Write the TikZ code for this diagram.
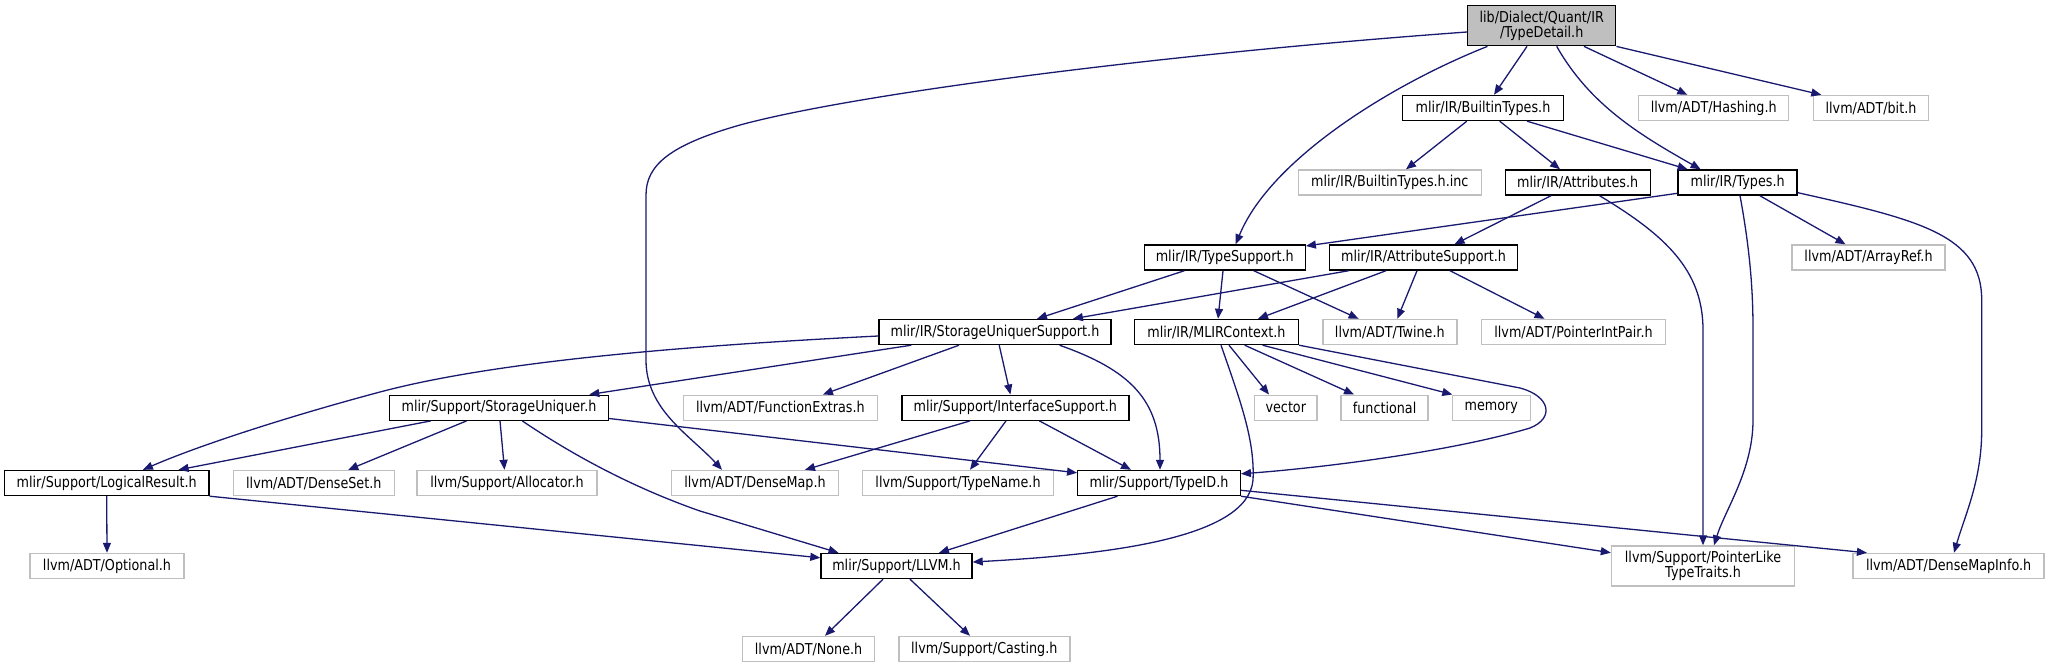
\documentclass[tikz,border=0pt]{standalone}
\usepackage{fontspec}
\setmainfont[FakeStretch=0.85]{DejaVu Sans}
\usetikzlibrary{arrows.meta,calc}
\definecolor{edgeblue}{HTML}{191970}
\definecolor{extgrey}{HTML}{BFBFBF}
\begin{document}
\begin{tikzpicture}[x=1pt,y=-1pt,
  box/.style={draw=black,line width=1.4pt,rectangle,inner sep=0pt,minimum height=25pt,font=\fontsize{15}{15.5}\selectfont,align=center},
  ext/.style={box,draw=extgrey},
  e/.style={draw=edgeblue,line width=1.3pt,-{Triangle[length=10pt,width=8pt]}}]
\useasboundingbox (0,0) rectangle (2049,664);
% nodes
\node[box,minimum width=148pt,minimum height=40pt,fill=extgrey] (td) at (1541.7,25.7) {lib/Dialect/Quant/IR\\/TypeDetail.h};
\node[box,minimum width=161pt] (bt) at (1483,108) {mlir/IR/BuiltinTypes.h};
\node[ext,minimum width=150pt] (hash) at (1713.7,108) {llvm/ADT/Hashing.h};
\node[ext,minimum width=115pt] (bit) at (1871,108) {llvm/ADT/bit.h};
\node[ext,minimum width=183pt] (inc) at (1389.8,182.5) {mlir/IR/BuiltinTypes.h.inc};
\node[box,minimum width=145pt] (attr) at (1577.7,182.5) {mlir/IR/Attributes.h};
\node[box,minimum width=119pt] (types) at (1737.6,182.5) {mlir/IR/Types.h};
\node[box,minimum width=161pt] (ts) at (1224.7,257.5) {mlir/IR/TypeSupport.h};
\node[box,minimum width=188pt] (as) at (1423.5,257.5) {mlir/IR/AttributeSupport.h};
\node[ext,minimum width=153pt] (arr) at (1868.5,257.5) {llvm/ADT/ArrayRef.h};
\node[box,minimum width=232pt] (sus) at (995,332) {mlir/IR/StorageUniquerSupport.h};
\node[box,minimum width=164pt] (ctx) at (1216.4,332) {mlir/IR/MLIRContext.h};
\node[ext,minimum width=134pt] (twine) at (1389.8,332) {llvm/ADT/Twine.h};
\node[ext,minimum width=184pt] (pip) at (1573.5,332) {llvm/ADT/PointerIntPair.h};
\node[box,minimum width=219pt] (su) at (499,407.7) {mlir/Support/StorageUniquer.h};
\node[ext,minimum width=194pt] (fe) at (780.4,407.7) {llvm/ADT/FunctionExtras.h};
\node[box,minimum width=227pt] (is) at (1015.3,407.7) {mlir/Support/InterfaceSupport.h};
\node[ext,minimum width=62.5pt] (vec) at (1285.8,407.7) {vector};
\node[ext,minimum width=87pt] (fun) at (1384.6,407.7) {functional};
\node[ext,minimum width=78pt] (mem) at (1491.2,407.7) {memory};
\node[box,minimum width=204.5pt] (lr) at (106.7,483) {mlir/Support/LogicalResult.h};
\node[ext,minimum width=161pt] (ds) at (313.8,483) {llvm/ADT/DenseSet.h};
\node[ext,minimum width=180pt] (alloc) at (507,483) {llvm/Support/Allocator.h};
\node[ext,minimum width=166.5pt] (dm) at (755,483) {llvm/ADT/DenseMap.h};
\node[ext,minimum width=190.6pt] (tn) at (958,483) {llvm/Support/TypeName.h};
\node[box,minimum width=162.5pt] (tid) at (1159,483) {mlir/Support/TypeID.h};
\node[ext,minimum width=154pt] (opt) at (107,566) {llvm/ADT/Optional.h};
\node[box,minimum width=151pt] (llvm) at (896.5,566) {mlir/Support/LLVM.h};
\node[ext,minimum width=183pt,minimum height=40pt] (pltt) at (1703,566) {llvm/Support/PointerLike\\TypeTraits.h};
\node[ext,minimum width=191pt] (dmi) at (1948.6,566) {llvm/ADT/DenseMapInfo.h};
\node[ext,minimum width=132pt] (none) at (808.6,649) {llvm/ADT/None.h};
\node[ext,minimum width=171pt] (cast) at (984.3,649) {llvm/Support/Casting.h};
% edges from TypeDetail
\draw[e] ($(td.west)+(0,6.3)$) .. controls (1150,55) and (850,95) .. (740,125) .. controls (670,145) and (646,165) .. (646,195) -- (646,360) .. controls (646,410) and (690,435) .. ($(dm.north)+(-33,0)$);
\draw[e] ($(td.south)+(-54.3,0)$) .. controls (1390,85) and (1270,160) .. ($(ts.north)+(11,0)$);
\draw[e] ($(td.south)+(-14.7,0)$) -- ($(bt.north)+(11,0)$);
\draw[e] ($(td.south)+(15,0)$) .. controls (1590,105) and (1640,135) .. ($(types.north)+(-37,0)$);
\draw[e] ($(td.south)+(42.3,0)$) -- ($(hash.north)+(-26.4,0)$);
\draw[e] (td.south east) -- ($(bit.north)+(-49.7,0)$);
% BuiltinTypes
\draw[e] ($(bt.south)+(-16.2,0)$) -- ($(inc.north)+(16.2,0)$);
\draw[e] ($(bt.south)+(16.7,0)$) -- ($(attr.north)+(-17.7,0)$);
\draw[e] ($(bt.south)+(44,0)$) -- ($(types.north)+(-50,0)$);
% Attributes
\draw[e] ($(attr.south)+(-26.7,0)$) -- ($(as.north)+(31,0)$);
\draw[e] ($(attr.south)+(21.8,0)$) .. controls (1665,235) and (1703,270) .. (1703,330) -- (pltt.north);
% Types
\draw[e] ($(types.west)+(0,10.8)$) -- ($(ts.east)+(0,-11.5)$);
\draw[e] ($(types.south)+(22.2,0)$) -- ($(arr.north)+(-23,0)$);
\draw[e] ($(types.south)+(2.4,0)$) .. controls (1750,250) and (1753,290) .. (1753,330) -- (1753,420) .. controls (1753,470) and (1725,510) .. ($(pltt.north)+(11,0)$);
\draw[e] ($(types.east)+(0,10.2)$) .. controls (1920,220) and (1981.7,235) .. (1981.7,300) -- (1981.7,430) .. controls (1981.7,480) and (1965,515) .. ($(dmi.north)+(5.4,0)$);
% TypeSupport
\draw[e] ($(ts.south)+(-40.2,0)$) -- ($(sus.north)+(42,0)$);
\draw[e] ($(ts.south)+(-1.7,0)$) -- ($(ctx.north)+(1.6,0)$);
\draw[e] ($(ts.south)+(29,0)$) -- ($(twine.north)+(-31.2,0)$);
% AttributeSupport
\draw[e] ($(as.south west)+(20,0)$) -- ($(sus.north)+(77.9,0)$);
\draw[e] ($(as.south)+(-37.5,0)$) -- ($(ctx.north)+(41.6,0)$);
\draw[e] ($(as.south)+(-6.5,0)$) -- ($(twine.north)+(7.5,0)$);
\draw[e] ($(as.south)+(26.5,0)$) -- ($(pip.north)+(-29,0)$);
% StorageUniquerSupport
\draw[e] ($(sus.west)+(0,4)$) .. controls (700,345) and (500,360) .. (380,392) .. controls (290,416) and (200,445) .. ($(lr.north)+(36.2,0)$);
\draw[e] ($(sus.south west)+(33,0)$) -- ($(su.north)+(90.3,0)$);
\draw[e] ($(sus.south)+(-36,0)$) -- ($(fe.north)+(42.5,0)$);
\draw[e] ($(sus.south)+(4.2,0)$) -- ($(is.north)+(-4.9,0)$);
\draw[e] ($(sus.south)+(64.5,0)$) .. controls (1130,370) and (1160,400) .. ($(tid.north)+(1,0)$);
% MLIRContext
\draw[e] ($(ctx.south)+(4.6,0)$) .. controls (1240,400) and (1255,440) .. (1253,480) .. controls (1248,540) and (1100,555) .. ($(llvm.east)+(0,-4)$);
\draw[e] ($(ctx.south)+(12.6,0)$) -- ($(vec.north)+(-16.8,0)$);
\draw[e] ($(ctx.south)+(28.3,0)$) -- ($(fun.north)+(-30.6,0)$);
\draw[e] ($(ctx.south)+(46.2,0)$) -- ($(mem.north)+(-38.9,0)$);
\draw[e] (ctx.south east) -- (1520,388) .. controls (1550,396) and (1555,418) .. (1530,428) .. controls (1450,452) and (1320,468) .. ($(tid.north east)+(0,4)$);
% InterfaceSupport
\draw[e] ($(is.south)+(-45.3,0)$) -- ($(dm.north)+(50,0)$);
\draw[e] ($(is.south)+(-9.3,0)$) -- ($(tn.north)+(12,0)$);
\draw[e] ($(is.south)+(24.1,0)$) -- ($(tid.north)+(-28,0)$);
% StorageUniquer
\draw[e] ($(su.south)+(-68.2,0)$) -- ($(lr.north)+(71.9,0)$);
\draw[e] ($(su.south)+(-32.5,0)$) -- ($(ds.north)+(34.4,0)$);
\draw[e] ($(su.south)+(1,0)$) -- ($(alloc.north)+(-2.5,0)$);
\draw[e] ($(su.east)+(0,10.8)$) -- ($(tid.north west)+(0,3)$);
\draw[e] ($(su.south)+(23.3,0)$) .. controls (580,460) and (640,490) .. (700,511) -- ($(llvm.north)+(-58,0)$);
% LogicalResult
\draw[e] (lr.south) -- (opt.north);
\draw[e] (lr.south east) -- ($(llvm.west)+(0,-8.2)$);
% TypeID
\draw[e] ($(tid.south)+(-41.5,0)$) -- ($(llvm.north)+(42.5,0)$);
\draw[e] (tid.south east) -- ($(pltt.west)+(0,-13.3)$);
\draw[e] ($(tid.east)+(0,7.3)$) -- ($(dmi.north west)+(14.5,0)$);
% LLVM
\draw[e] ($(llvm.south)+(-13.5,0)$) -- ($(none.north)+(16.4,0)$);
\draw[e] ($(llvm.south)+(13.5,0)$) -- ($(cast.north)+(-14.3,0)$);
\end{tikzpicture}
\end{document}
